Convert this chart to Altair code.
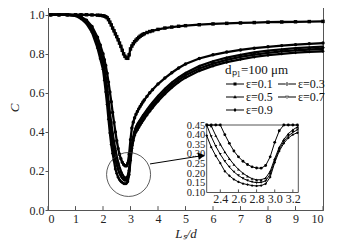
import altair as alt
import pandas as pd

X = [0.1, 0.4, 0.7, 1.0, 1.2, 1.4, 1.6, 1.8, 1.9, 2.0,
     2.05, 2.10, 2.15, 2.20, 2.25, 2.30, 2.35, 2.40, 2.45, 2.50,
     2.55, 2.60, 2.65, 2.70, 2.75, 2.80, 2.85, 2.90, 2.95, 3.00,
     3.05, 3.10, 3.15, 3.20, 3.25, 3.30, 3.35, 3.40, 3.45, 3.50,
     3.6, 3.7, 3.8, 4.0, 4.25, 4.5, 4.75, 5.0,
     5.5, 6.0, 6.5, 7.0, 7.5, 8.0, 8.5, 9.0, 9.5, 10.0]

S1 = [1.0, 1.0, 1.0, 1.0, 1.0, 1.0, 0.999, 0.998, 0.997, 0.995,
      0.993, 0.99, 0.985, 0.975, 0.962, 0.948, 0.932, 0.918, 0.902, 0.888,
      0.872, 0.855, 0.838, 0.818, 0.80, 0.787, 0.778, 0.777, 0.795, 0.825,
      0.84, 0.852, 0.862, 0.87, 0.877, 0.884, 0.89, 0.895, 0.899, 0.903,
      0.909, 0.914, 0.918, 0.925, 0.932, 0.937, 0.941, 0.944,
      0.949, 0.953, 0.956, 0.958, 0.960, 0.962, 0.963, 0.964, 0.965, 0.966]
S2 = [1.0, 1.0, 1.0, 0.998, 0.99, 0.972, 0.94, 0.885, 0.845, 0.80,
      0.77, 0.74, 0.70, 0.655, 0.605, 0.555, 0.50, 0.45, 0.40, 0.355,
      0.315, 0.285, 0.262, 0.245, 0.233, 0.227, 0.226, 0.24, 0.285, 0.36,
      0.42, 0.45, 0.472, 0.49, 0.505, 0.518, 0.53, 0.542, 0.553, 0.563,
      0.582, 0.60, 0.616, 0.645, 0.676, 0.703, 0.727, 0.748,
      0.776, 0.795, 0.809, 0.82, 0.829, 0.836, 0.842, 0.847, 0.851, 0.855]
S3 = [1.0, 1.0, 1.0, 0.997, 0.987, 0.965, 0.93, 0.86, 0.815, 0.765,
      0.73, 0.68, 0.625, 0.56, 0.50, 0.445, 0.395, 0.35, 0.31, 0.275,
      0.245, 0.22, 0.20, 0.184, 0.172, 0.166, 0.166, 0.175, 0.21, 0.275,
      0.335, 0.375, 0.405, 0.425, 0.44, 0.451, 0.462, 0.473, 0.484, 0.494,
      0.514, 0.533, 0.551, 0.584, 0.62, 0.652, 0.679, 0.702,
      0.737, 0.762, 0.781, 0.795, 0.807, 0.816, 0.823, 0.829, 0.833, 0.837]
S4 = [1.0, 1.0, 1.0, 0.996, 0.984, 0.96, 0.92, 0.845, 0.795, 0.74,
      0.70, 0.645, 0.585, 0.515, 0.45, 0.39, 0.34, 0.298, 0.262, 0.232,
      0.207, 0.188, 0.173, 0.162, 0.155, 0.151, 0.152, 0.16, 0.195, 0.265,
      0.325, 0.365, 0.393, 0.412, 0.425, 0.437, 0.448, 0.459, 0.47, 0.48,
      0.50, 0.519, 0.537, 0.57, 0.607, 0.64, 0.667, 0.69,
      0.725, 0.75, 0.769, 0.784, 0.796, 0.805, 0.812, 0.818, 0.822, 0.825]
S5 = [1.0, 1.0, 1.0, 0.995, 0.98, 0.955, 0.91, 0.83, 0.775, 0.72,
      0.665, 0.605, 0.54, 0.465, 0.395, 0.335, 0.29, 0.252, 0.21, 0.187,
      0.168, 0.155, 0.146, 0.141, 0.136, 0.134, 0.136, 0.145, 0.18, 0.255,
      0.315, 0.355, 0.383, 0.40, 0.41, 0.423, 0.435, 0.446, 0.457, 0.467,
      0.487, 0.506, 0.524, 0.557, 0.594, 0.627, 0.655, 0.678,
      0.713, 0.738, 0.757, 0.772, 0.784, 0.793, 0.80, 0.806, 0.81, 0.813]

SERIES = ["ε=0.1", "ε=0.3", "ε=0.5", "ε=0.7", "ε=0.9"]
VALUES = [S1, S2, S3, S4, S5]
MARKERS = ["square", "circle", "triangle-up", "triangle-down", "diamond"]
# legend fills column by column: order entries so the grid reads 0.1 0.3 / 0.5 0.7 / 0.9
LEGEND_ORDER = ["ε=0.1", "ε=0.5", "ε=0.9", "ε=0.3", "ε=0.7"]
LEGEND_PATHS = [
    "M-1,-0.1H2.6V0.1H-1ZM0.5,-0.3H1.1V0.3H0.5Z",
    "M-1,-0.1H2.6V0.1H-1ZM0.8,-0.38L1.15,0.25H0.45Z",
    "M-1,-0.1H2.6V0.1H-1ZM0.8,-0.38L1.15,0L0.8,0.38L0.45,0Z",
    "M-1,-0.1H2.6V0.1H-1ZM0.5,0A0.3,0.3 0 1,0 1.1,0A0.3,0.3 0 1,0 0.5,0Z",
    "M-1,-0.1H2.6V0.1H-1ZM0.8,0.38L1.15,-0.25H0.45Z",
]

X_TICKS = [0, 1, 2, 3, 4, 5, 6, 7, 8, 9, 10]
Y_TICKS = [0.0, 0.2, 0.4, 0.6, 0.8, 1.0]
X_DOMAIN = [0, 10]
Y_DOMAIN = [0, 1.05]
TICK_LEN = 0.02

INSET_X_DOMAIN = [2.25, 3.26]
INSET_Y_DOMAIN = [0.10, 0.45]
INSET_X_TICKS = [2.4, 2.6, 2.8, 3.0, 3.2]
INSET_Y_TICKS = [0.10, 0.15, 0.20, 0.25, 0.30, 0.35, 0.40, 0.45]
INSET_TICK_LEN = 0.016
INSET_SERIES = SERIES[1:]

CIRCLE_X, CIRCLE_Y = [2.93], [0.182]
ARROW_X, ARROW_Y, ARROW_X2, ARROW_Y2 = [3.71], [0.236], [5.5], [0.276]
HEAD_X, HEAD_Y = [5.58], [0.278]

FONT = "Liberation Serif, Times New Roman, serif"

rows = []
for name, vals in zip(SERIES, VALUES):
    for xv, cv in zip(X, vals):
        rows.append({"series": name, "x": xv, "c": cv})
df = pd.DataFrame(rows)

xs = alt.Scale(domain=X_DOMAIN, nice=False, zero=False)
ys = alt.Scale(domain=Y_DOMAIN, nice=False, zero=False)
x_axis = alt.Axis(values=X_TICKS, format="d", ticks=False, labelPadding=3, labelOverlap=False,
                  title="Lₛ/d", titleFontStyle="italic", titleFontWeight="normal",
                  titleFontSize=13, titlePadding=3)
y_axis = alt.Axis(values=Y_TICKS, format=".1f", tickSize=3, labelPadding=1, labelOverlap=False,
                  title="C", titleFontStyle="italic", titleFontWeight="normal",
                  titleFontSize=13, titlePadding=8)


def mx(field):
    return alt.X(field, type="quantitative", scale=xs, axis=x_axis)


def my(field):
    return alt.Y(field, type="quantitative", scale=ys, axis=y_axis)


lines = alt.Chart(df).mark_line(color="black", strokeWidth=2.3).encode(
    x=mx("x"), y=my("c"), detail="series:N",
)
points = alt.Chart(df).mark_point(filled=True, size=12, color="black", opacity=1).encode(
    x=mx("x"), y=my("c"),
    shape=alt.Shape("series:N", scale=alt.Scale(domain=SERIES, range=MARKERS), legend=None),
)
carrier = alt.Chart(df).mark_point(filled=True, color="black", opacity=0).encode(
    x=mx("x"), y=my("c"),
    shape=alt.Shape("series:N", scale=alt.Scale(domain=LEGEND_ORDER, range=LEGEND_PATHS),
                    legend=alt.Legend(orient="none", legendX=177, legendY=59, columns=2,
                                      padding=0, title="dₚ₁=100 μm", titleFont=FONT,
                                      titleFontSize=13, titleFontWeight="normal",
                                      titleColor="#111", titlePadding=1,
                                      labelFont=FONT, labelFontSize=12, labelColor="#111",
                                      labelOffset=9, symbolSize=100,
                                      symbolFillColor="black", symbolStrokeWidth=0,
                                      symbolOpacity=1, columnPadding=4, rowPadding=1)),
)
tick_df = pd.DataFrame({"x": X_TICKS, "y0": [Y_DOMAIN[0]] * len(X_TICKS),
                        "y1": [Y_DOMAIN[0] + TICK_LEN] * len(X_TICKS)})
ticks = alt.Chart(tick_df).mark_rule(color="#555").encode(x=mx("x"), y=my("y0"), y2="y1:Q")
circle = alt.Chart(pd.DataFrame({"x": CIRCLE_X, "y": CIRCLE_Y})).mark_point(
    shape="circle", size=1936, filled=False, color="#333", strokeWidth=0.8, opacity=1
).encode(x=mx("x"), y=my("y"))
arrow = alt.Chart(pd.DataFrame({"x": ARROW_X, "y": ARROW_Y, "x2": ARROW_X2, "y2": ARROW_Y2})).mark_rule(
    color="black", strokeWidth=1
).encode(x=mx("x"), y=my("y"), x2="x2:Q", y2="y2:Q")
head = alt.Chart(pd.DataFrame({"x": HEAD_X, "y": HEAD_Y})).mark_point(
    shape="triangle-right", size=60, filled=True, color="black", angle=351, opacity=1
).encode(x=mx("x"), y=my("y"))

main = alt.layer(lines, points, carrier, ticks, circle, arrow, head).resolve_scale(shape="independent")

idf = df[(df["x"] >= INSET_X_DOMAIN[0]) & (df["x"] <= INSET_X_DOMAIN[1]) & (df["series"].isin(INSET_SERIES))]
ixs = alt.Scale(domain=INSET_X_DOMAIN, range=[158.7, 250.3], nice=False, zero=False)
iys = alt.Scale(domain=INSET_Y_DOMAIN, range=[187.5, 120], nice=False, zero=False, clamp=True)
ix_axis = alt.Axis(orient="bottom", offset=-17.5, values=INSET_X_TICKS, format=".1f",
                   ticks=False, domain=False, labelPadding=1, labelOverlap=False, title=None,
                   grid=False, labelFontSize=12)
iy_axis = alt.Axis(orient="left", offset=-158.7, values=INSET_Y_TICKS, format=".2f",
                   ticks=False, domain=False, labelPadding=2, labelOverlap=False, title=None,
                   grid=False, labelFontSize=10.5)


def ix(field):
    return alt.X(field, type="quantitative", scale=ixs, axis=ix_axis)


def iy(field):
    return alt.Y(field, type="quantitative", scale=iys, axis=iy_axis)


ilines = alt.Chart(idf).mark_line(color="black", strokeWidth=1).encode(
    x=ix("x"), y=iy("c"), detail="series:N",
)
ipoints = alt.Chart(idf).mark_point(filled=True, size=8, color="black", opacity=1).encode(
    x=ix("x"), y=iy("c"),
    shape=alt.Shape("series:N", scale=alt.Scale(domain=SERIES, range=MARKERS), legend=None),
)
iframe = alt.Chart(pd.DataFrame({"x": [INSET_X_DOMAIN[0]], "x2": [INSET_X_DOMAIN[1]],
                                 "y": [INSET_Y_DOMAIN[0]], "y2": [INSET_Y_DOMAIN[1]]})).mark_rect(
    fillOpacity=0, stroke="#555", strokeWidth=1
).encode(x=ix("x"), x2="x2:Q", y=iy("y"), y2="y2:Q")
itick_df = pd.DataFrame({"x": INSET_X_TICKS, "y0": [INSET_Y_DOMAIN[0]] * len(INSET_X_TICKS),
                         "y1": [INSET_Y_DOMAIN[0] + INSET_TICK_LEN] * len(INSET_X_TICKS)})
iticks = alt.Chart(itick_df).mark_rule(color="#555").encode(x=ix("x"), y=iy("y0"), y2="y1:Q")
inset = alt.layer(iframe, ilines, ipoints, iticks)

chart = alt.layer(main, inset).resolve_scale(
    x="independent", y="independent", shape="independent"
).properties(
    width=275, height=205,
    autosize=alt.AutoSizeParams(type="none"),
    padding={"left": 40, "top": -3, "right": 7, "bottom": 31},
).configure_view(stroke="#555", strokeWidth=1).configure_axis(
    grid=False, labelFont=FONT, labelFontSize=12, labelColor="#222",
    titleFont=FONT, titleColor="#222", domainColor="#555", tickColor="#555",
)

chart.save("out.html", embed_options={"renderer": "svg", "actions": False})
